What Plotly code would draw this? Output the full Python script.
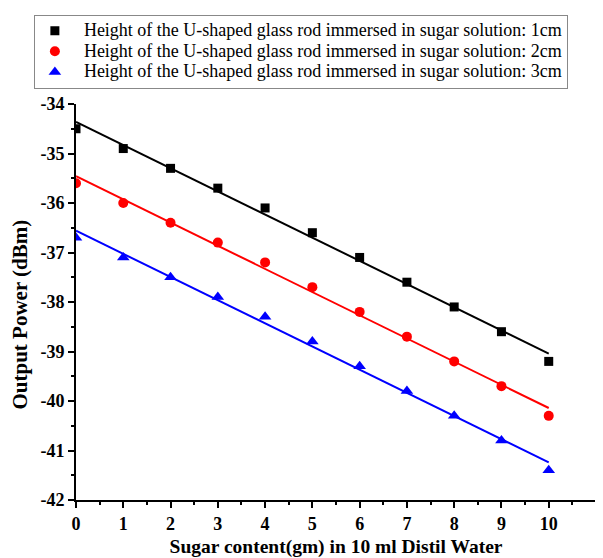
import numpy as np
import plotly.graph_objects as go

sugar = [0, 1, 2, 3, 4, 5, 6, 7, 8, 9, 10]
h1cm = [-34.5, -34.9, -35.3, -35.7, -36.1, -36.6, -37.1, -37.6, -38.1, -38.6, -39.2]
h2cm = [-35.6, -36.0, -36.4, -36.8, -37.2, -37.7, -38.2, -38.7, -39.2, -39.7, -40.3]
h3cm = [-36.7, -37.1, -37.5, -37.9, -38.3, -38.8, -39.3, -39.8, -40.3, -40.8, -41.4]
names = ["Height of the U-shaped glass rod immersed in sugar solution: 1cm",
         "Height of the U-shaped glass rod immersed in sugar solution: 2cm",
         "Height of the U-shaped glass rod immersed in sugar solution: 3cm"]
colors = ["black", "red", "blue"]
symbols = ["square", "circle", "triangle-up"]
sizes = [9, 10, 11]
xtick_vals = list(range(0, 12))
xtick_text = [str(v) for v in xtick_vals]
ytick_vals = [-42, -41, -40, -39, -38, -37, -36, -35, -34]
ytick_text = ["-42", "-41", "-40", "-39", "-38", "-37", "-36", "-35", "-34"]
x_title = "Sugar content(gm) in 10 ml Distil Water"
y_title = "Output Power (dBm)"

fig = go.Figure()
xs = np.array(sugar, dtype=float)
for ys, nm, c, s, sz in zip([h1cm, h2cm, h3cm], names, colors, symbols, sizes):
    fig.add_trace(go.Scatter(x=sugar, y=ys, mode="markers",
                             name='<span style="font-size:18px">&nbsp;&nbsp;' + nm + '</span>',
                             marker=dict(color=c, symbol=s, size=sz)))
    k, b = np.polyfit(xs, np.array(ys), 1)
    fig.add_trace(go.Scatter(x=[xs[0], xs[-1]], y=[k * xs[0] + b, k * xs[-1] + b],
                             mode="lines", line=dict(color=c, width=2), showlegend=False))

tickfont = dict(family="Liberation Serif", size=18, color="black", weight="bold")
fig.update_layout(
    width=595, height=550,
    margin=dict(l=68, r=7, t=88, b=58),
    paper_bgcolor="white", plot_bgcolor="white",
    font=dict(family="Liberation Serif", color="black"),
    legend=dict(x=-0.081, y=1.226, xanchor="left", yanchor="top",
                bordercolor="#888888", borderwidth=1,
                font=dict(family="Liberation Serif", size=13.5, color="black"),
                tracegroupgap=0),
    xaxis=dict(range=[0, 11], tickvals=xtick_vals, ticktext=xtick_text, automargin=False,
               showline=True, linecolor="black", linewidth=2, mirror=False,
               ticks="outside", ticklen=6, tickwidth=2, tickcolor="black",
               minor=dict(ticks="outside", ticklen=3, tickwidth=2, tickcolor="black", dtick=0.5),
               showgrid=False, zeroline=False, tickfont=tickfont,
               title=dict(text="<b>" + x_title + "</b>",
                          font=dict(family="Liberation Serif", size=19.5, color="black"), standoff=8)),
    yaxis=dict(range=[-42, -34], tickvals=ytick_vals, ticktext=ytick_text, automargin=False,
               showline=True, linecolor="black", linewidth=2, mirror=False,
               ticks="outside", ticklen=6, tickwidth=2, tickcolor="black",
               minor=dict(ticks="outside", ticklen=3, tickwidth=2, tickcolor="black", dtick=0.5),
               showgrid=False, zeroline=False, tickfont=tickfont),
    annotations=[dict(text="<b>" + y_title + "</b>", textangle=-90, showarrow=False,
                      xref="paper", yref="paper", x=-0.108, y=0.468,
                      xanchor="center", yanchor="middle",
                      font=dict(family="Liberation Serif", size=21, color="black"))],
)
fig.write_html("out.html")
